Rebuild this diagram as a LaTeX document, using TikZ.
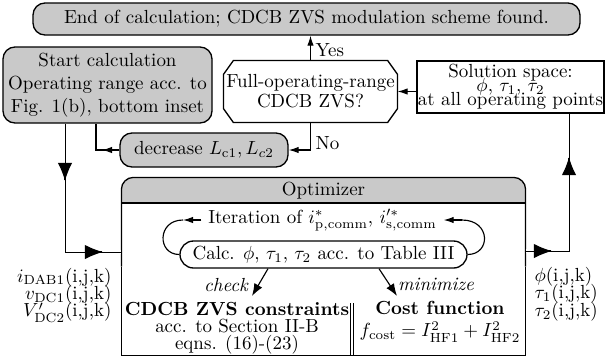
\documentclass[tikz,border=0pt]{standalone}
\usetikzlibrary{arrows.meta,shapes.misc,calc}
\definecolor{boxgray}{gray}{0.79}
\newcommand\pxu{0.5274pt}
\begin{document}
\begin{tikzpicture}[x=0.5274pt, y=-0.5274pt, line width=0.6pt,
  gbox/.style={draw, line width=0.7pt, fill=boxgray, rounded corners=6.3pt, inner sep=0pt, align=center},
  wbox/.style={draw, line width=0.7pt, fill=white, inner sep=0pt, align=center},
  lsp/.style={font={\fontsize{10pt}{#1}\selectfont\lineskiplimit=-100pt}},
  stip/.style={-{Latex[length=5.3pt,width=3.4pt]}},
  mtip/.style={-{Latex[length=6.5pt,width=4.8pt]}},
  btip/.style={-{Latex[length=9.5pt,width=7.5pt]}},
  tripleouter/.style={line width=0.5pt, double, double distance=1.6pt},
  tripleinner/.style={line width=0.4pt}]
\useasboundingbox (0,0) rectangle (605,358);

% boxes
\node[gbox, minimum width=547*\pxu, minimum height=32*\pxu] (endc) at (306.5,19)
  {End of calculation; CDCB ZVS modulation scheme found.};
\node[gbox, minimum width=209*\pxu, minimum height=76*\pxu] (start) at (107.5,85)
  {Start calculation\\Operating range acc. to\\Fig. 1(b), bottom inset};
\node[minimum width=173*\pxu, minimum height=61*\pxu, align=center, inner sep=0pt, lsp=10.5pt] (dec) at (310.5,91.5)
  {Full-operating-range\\CDCB ZVS?};
\draw[line width=0.7pt] ($(dec.north west)+(10,0)$) -- ($(dec.north east)+(-10,0)$) -- ($(dec.north east)+(0,14)$)
  -- ($(dec.south east)+(0,-14)$) -- ($(dec.south east)+(-10,0)$) -- ($(dec.south west)+(10,0)$)
  -- ($(dec.south west)+(0,-14)$) -- ($(dec.north west)+(0,14)$) -- cycle;
\node[wbox, minimum width=187*\pxu, minimum height=52*\pxu, lsp=7.4pt] (sol) at (510.5,87)
  {Solution space:\\$\phi$, $\tau_1$, $\tau_2$\\at all operating points};
\node[gbox, minimum width=168*\pxu, minimum height=34*\pxu] (decr) at (204,150)
  {decrease $L_{\mathrm{c}1}, L_{c2}$};

% optimizer
\node[minimum width=403*\pxu, minimum height=177*\pxu, inner sep=0pt] (opt) at (323.5,266.5) {};
\begin{scope}
  \clip (122,178) rectangle (525,203);
  \fill[boxgray, rounded corners=6.3pt] (122,178) rectangle (525,240);
\end{scope}
\draw[line width=0.7pt, rounded corners=6.3pt] (opt.west) |- (opt.north) -| (opt.east);
\draw[line width=0.7pt] (opt.west) |- (opt.south) -| (opt.east);
\draw[line width=0.7pt] (122,203) -- (525,203);
\node (optl) at (323.5,190.5) {Optimizer};

\node (iter) at (322.5,220) {Iteration of $i^*_{\mathrm{p,comm}}$, $i'^*_{\mathrm{s,comm}}$};
\node[wbox, rounded rectangle, minimum width=287*\pxu, minimum height=27*\pxu] (calc) at (323.5,254.5)
  {Calc. $\phi$, $\tau_1$, $\tau_2$ acc. to Table III};
\coordinate (lt) at (183,220);
\coordinate (rt) at (462,220);
\draw[stip] (iter.west) -- (lt);
\draw (lt) .. controls (157,220) and (157,254.5) .. (calc.west);
\draw (calc.east) .. controls (491,254.5) and (491,220) .. (rt);
\draw[stip] (rt) -- (iter.east);

\node[font=\itshape] (chk) at (226,285) {check};
\node[font=\itshape] (mini) at (436,284) {minimize};
\node[align=center, inner sep=0pt, lsp=9pt] (cons) at (237,328)
  {\textbf{CDCB ZVS constraints}\\acc. to Section II-B\\eqns. (16)-(23)};
\node[align=center, inner sep=0pt] (cost) at (440,321.5)
  {\textbf{Cost function}\\$f_{\mathrm{cost}} = I^2_{\mathrm{HF1}} + I^2_{\mathrm{HF2}}$};
\coordinate (chks) at ($(calc.south)+(-55.5,0)$);
\coordinate (chke) at (252,296);
\coordinate (mins) at ($(calc.south)+(55.5,0)$);
\coordinate (mine) at (397,296);
\draw[mtip] (chks) -- (chke);
\draw[mtip] (mins) -- (mine);
\draw[double, double distance=1.1pt] (352,303) -- (352,355);

% side labels
\node[anchor=east, align=right, inner sep=0pt, lsp=9.2pt] (inl) at (112,295)
  {$i_{\mathrm{DAB1}}$(i,j,k)\\$v_{\mathrm{DC1}}$(i,j,k)\\$V'_{\mathrm{DC2}}$(i,j,k)};
\node[anchor=west, align=left, inner sep=0pt, lsp=9.2pt] (outl) at (534,294)
  {$\phi$(i,j,k)\\$\tau_1$(i,j,k)\\$\tau_2$(i,j,k)};

% connectors
\draw[stip] (dec.north) -- (dec.north |- endc.south);
\node[anchor=west, inner sep=0pt] (yes) at (315,50) {Yes};
\draw[stip] (dec.south) |- (decr.east);
\node[anchor=west, inner sep=0pt] (no) at (315,143) {No};
\draw[stip] (sol.west |- dec.east) -- (dec.east);
\coordinate (cor) at (96,150);
\coordinate (ctip) at (102,150);
\draw (decr.west) -- (cor) -- (cor |- start.south);
\draw[stip] (decr.west) -- (ctip);

% triple lines
\coordinate (lc) at (65,252);
\coordinate (rc) at (569,251);
\draw[tripleouter] (lc |- start.south) -- (lc) -- (opt.west |- lc);
\draw[tripleinner] (lc |- start.south) -- (lc) -- (opt.west |- lc);
\draw[tripleouter] (opt.east |- rc) -- (rc) -- (rc |- sol.south);
\draw[tripleinner] (opt.east |- rc) -- (rc) -- (rc |- sol.south);
\draw[btip] (65,180) -- (65,181);
\draw[btip] (102,252) -- (103,252);
\draw[btip] (551,251) -- (552,251);
\draw[btip] (569,158) -- (569,157);
\end{tikzpicture}
\end{document}
